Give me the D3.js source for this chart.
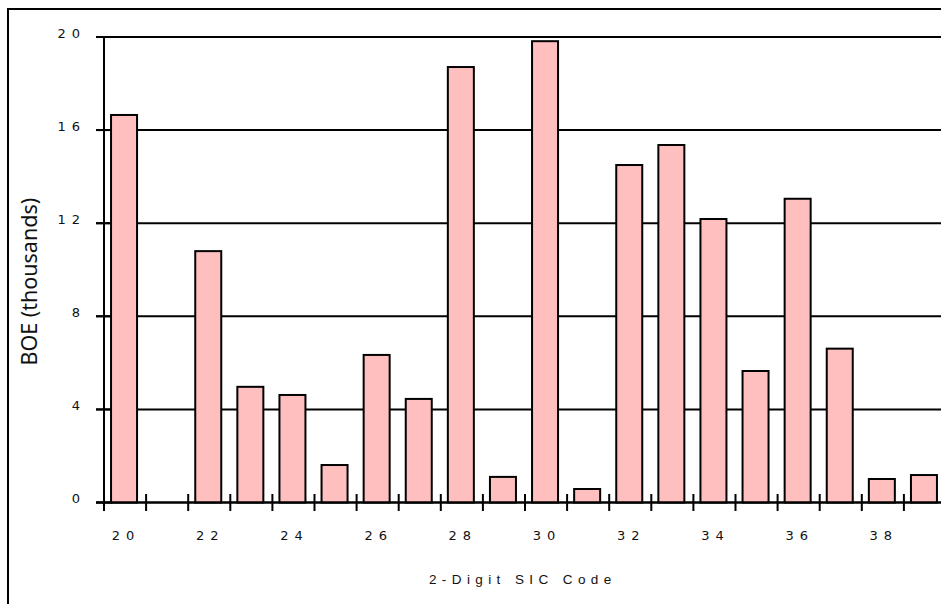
<!DOCTYPE html>
<html>
<head>
<meta charset="utf-8">
<script src="https://cdn.jsdelivr.net/npm/d3@7"></script>
<style>
  html, body { margin: 0; padding: 0; background: #fff; }
  svg { display: block; }
</style>
</head>
<body>
<svg id="chart" width="941" height="604"></svg>
<script>
// ---- data ----
const categories = [20, 21, 22, 23, 24, 25, 26, 27, 28, 29, 30, 31, 32, 33, 34, 35, 36, 37, 38, 39];
const values = [16.65, null, 10.80, 4.97, 4.62, 1.61, 6.34, 4.45, 18.71, 1.10, 19.82, 0.58, 14.50, 15.36, 12.18, 5.65, 13.05, 6.61, 1.01, 1.18];
const yTicks = [0, 4, 8, 12, 16, 20];
const xTickLabels = [20, 22, 24, 26, 28, 30, 32, 34, 36, 38];
const yTitle = "BOE (thousands)";
const xTitle = "2-Digit SIC Code";

const svg = d3.select("#chart");
const W = 941, H = 604;

// outer frame (cropped on right/bottom)
svg.append("rect")
  .attr("x", 8).attr("y", 9).attr("width", 1000).attr("height", 1000)
  .attr("fill", "none").attr("stroke", "#000").attr("stroke-width", 2);

const x = d3.scaleBand().domain(categories).range([104, 946]).paddingInner(0).paddingOuter(0);
const y = d3.scaleLinear().domain([0, 20]).range([502.5, 37]);
const step = x.step();
const barW = 26; // inner width; 2px stroke gives 28 outer

// gridlines
svg.append("g").selectAll("line").data(yTicks).join("line")
  .attr("x1", 96).attr("x2", W + 10)
  .attr("y1", d => y(d)).attr("y2", d => y(d))
  .attr("stroke", "#000").attr("stroke-width", 2);

// y axis line
svg.append("line")
  .attr("x1", x(categories[0])).attr("x2", x(categories[0]))
  .attr("y1", y(20) - 1).attr("y2", y(0) + 8.5)
  .attr("stroke", "#000").attr("stroke-width", 2);

// bars
svg.append("g").selectAll("rect").data(categories.map((c, i) => ({c, v: values[i]})).filter(d => d.v != null))
  .join("rect")
  .attr("x", d => x(d.c) + (step - barW) / 2 - 1)
  .attr("width", barW)
  .attr("y", d => y(d.v))
  .attr("height", d => y(0) - y(d.v))
  .attr("fill", "#ffbfbf")
  .attr("stroke", "#000").attr("stroke-width", 2);

// y ticks (cross the axis)
svg.append("g").selectAll("line").data(yTicks).join("line")
  .attr("x1", 96).attr("x2", 112)
  .attr("y1", d => y(d)).attr("y2", d => y(d))
  .attr("stroke", "#000").attr("stroke-width", 2);

// x ticks at band boundaries
const boundaries = categories.map(c => x(c));
svg.append("g").selectAll("line").data(boundaries).join("line")
  .attr("x1", d => d).attr("x2", d => d)
  .attr("y1", y(0) - 8.5).attr("y2", y(0) + 8.5)
  .attr("stroke", "#000").attr("stroke-width", 2);

// baseline redraw
svg.append("line")
  .attr("x1", 96).attr("x2", W + 10)
  .attr("y1", y(0)).attr("y2", y(0))
  .attr("stroke", "#000").attr("stroke-width", 2);

const LS = 6;
// y tick labels
svg.append("g").selectAll("text").data(yTicks).join("text")
  .attr("x", 80 + LS)
  .attr("y", d => y(d) + 0.5)
  .attr("text-anchor", "end")
  .attr("font-family", "DejaVu Sans")
  .attr("font-size", 13)
  .attr("letter-spacing", LS)
  .attr("fill", "#111")
  .text(d => d);

// x tick labels
svg.append("g").selectAll("text").data(xTickLabels).join("text")
  .attr("x", d => x(d) + step / 2 + LS / 2 - 2)
  .attr("y", 540)
  .attr("text-anchor", "middle")
  .attr("font-family", "DejaVu Sans")
  .attr("font-size", 13)
  .attr("letter-spacing", LS)
  .attr("fill", "#111")
  .text(d => d);

// x title
svg.append("text")
  .attr("x", 520 + 2.8)
  .attr("y", 584)
  .attr("text-anchor", "middle")
  .attr("font-family", "Liberation Sans")
  .attr("font-size", 13.5)
  .attr("letter-spacing", 5.4)
  .attr("fill", "#111")
  .text(xTitle);

// y title
svg.append("text")
  .attr("transform", "translate(37,281.7) rotate(-90)")
  .attr("text-anchor", "middle")
  .attr("font-family", "Noto Sans")
  .attr("font-size", 21.5)
  .attr("fill", "#111")
  .text(yTitle);
</script>
</body>
</html>
